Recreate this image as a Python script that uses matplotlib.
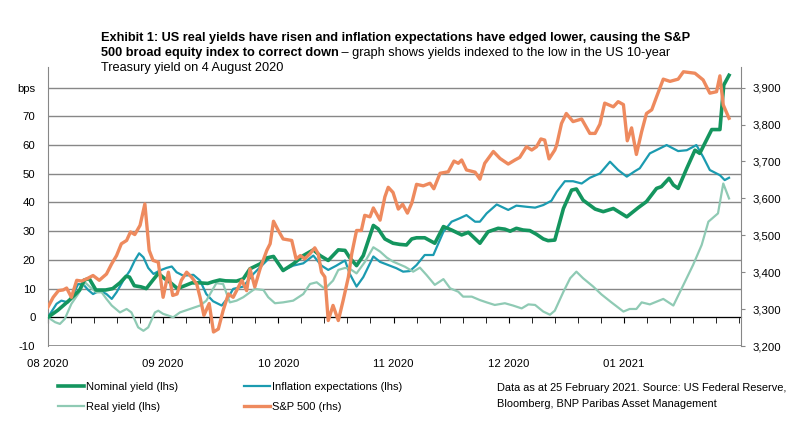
import matplotlib
matplotlib.use('Agg')
import matplotlib.pyplot as plt
from matplotlib.ticker import MultipleLocator, FuncFormatter

plt.rcParams['font.family'] = ['Liberation Sans', 'DejaVu Sans']

# x = trading day index counted from 4 August 2020
month_pos = [0, 24, 48, 72, 96, 120]
month_labels = ['08 2020', '09 2020', '10 2020', '11 2020', '12 2020', '01 2021']

nominal_x = [0, 2.1, 4.5, 6.6, 7.6, 8.6, 10, 12, 13.5, 15, 16.3, 17, 18, 19.4, 20.5, 21.9, 23, 24.3,
             25.3, 27, 28.5, 30, 31.6, 33.3, 34.4, 35.8, 37, 39.3, 40.7, 42.1, 44.2, 45.6, 47, 49,
             51.1, 53.2, 55.3, 56.7, 58.4, 60.5, 61.9, 62.9, 64.3, 65.7, 67.8, 68.8, 70.2, 71.9,
             73.3, 74.7, 75.8, 76.8, 78.5, 80.6, 82.4, 84.1, 86.2, 87.6, 90, 91.7, 93.8, 95.2,
             96.3, 97.6, 99, 100.4, 101.8, 103.2, 104.2, 105.6, 107.4, 109.1, 110.1, 111.5, 114,
             115.7, 117.8, 120.6, 123, 124.7, 126.8, 127.8, 129.4, 130.3, 131.3, 133.1, 134.8,
             135.8, 138.3, 140, 140.8, 141.9]
nominal = [0, 2.5, 6, 9.5, 13, 13.5, 9.5, 9.5, 10, 12, 14.3, 14, 11, 10.6, 10, 13, 15.3, 13.5,
           12.4, 10, 11, 12, 12, 11.8, 12.4, 13, 12.7, 12.6, 13.4, 16.9, 18.6, 20.7, 21.2, 16.3,
           18.6, 21.5, 23.5, 21.5, 19.8, 23.5, 23.3, 20.7, 18, 21.5, 32, 30.8, 27.3, 25.8,
           25.4, 25.2, 27.3, 27.7, 27.7, 25.8, 31.6, 30.4, 28.7, 29.6, 25.8, 29.8, 31, 30.7,
           30, 31, 30.4, 30.2, 28.9, 27.3, 26.7, 26.9, 37.9, 44.3, 44.7, 40.8, 37.7,
           36.8, 37.9, 35, 38.2, 40.3, 44.9, 45.5, 48.4, 46.1, 44.9, 51.9, 58.2,
           57.1, 65.4, 65.4, 80.9, 84.3]

infl_x = [0, 1.8, 2.8, 4.2, 5.3, 6.3, 7.4, 8.4, 9.4, 10.8, 12.2, 13.3, 14.3, 15.7, 17.1, 18.1, 19,
          19.9, 20.9, 22, 23.3, 24.7, 25.8, 26.8, 28.2, 30.3, 31.7, 33, 34.4, 36.2, 37.6, 38.6,
          40.7, 42.8, 44.9, 46.3, 47, 49, 51.1, 53.2, 55.3, 57, 58.4, 60.1, 61.9, 62.9, 64.3,
          65.7, 67.8, 69.2, 70.6, 72.6, 74, 75.4, 76.8, 78.5, 80.3, 82.4, 84.1, 85.8, 87.2, 89,
          90, 91.4, 93.5, 95.9, 97.6, 99.7, 101.5, 103.2, 104.9, 106, 107.7, 109.4, 111.2,
          112.9, 115, 117.1, 118.8, 120.6, 122.3, 123.3, 125.4, 128.9, 131.3, 133.1, 135.1,
          136.5, 137.9, 140, 141, 141.9]
inflation = [0, 4.7, 5.8, 5.2, 8.1, 11.6, 11.4, 9.5, 8.1, 9.3, 8.1, 6.4, 8.7, 12.8, 16.3, 19.8, 22.3,
             20.9, 17.2, 15.1, 16.3, 17.2, 17.7, 15.7, 14.5, 14.8, 12.8, 8.1, 5.6, 4.1, 7, 9.9,
             10.7, 15.1, 18.6, 20.9, 21.2, 16.3, 18, 18.8, 21.5, 18, 16.5, 18, 19.8, 15.1, 10.7,
             14, 21.2, 19.3, 18.4, 17.1, 15.9, 16.1, 18.2, 21.7, 21.7, 29.8, 33.3, 34.5, 35.6, 33.3,
             33.3, 36.2, 39.3, 37.4, 38.9, 38.5, 38.2, 39.1, 40.6, 43.7, 47.4, 47.4, 46.6,
             48.6, 50.1, 54.2, 51.3, 49, 50.9, 51.9, 57.1, 60, 57.9, 58.2, 60,
             55.9, 51.3, 49.5, 47.8, 48.6]

real_x = [0, 1.5, 2.5, 3.5, 4.9, 6.3, 7.7, 8.8, 10.1, 11.2, 12.2, 13.3, 15, 16.4, 17.4, 18.8, 19.9,
          20.9, 22.3, 23, 24, 25.1, 26.1, 27.5, 29.6, 31.7, 33, 34.4, 35.1, 36.5, 37.9, 39.3, 40.7,
          43.1, 44.9, 45.9, 47.3, 49, 51.1, 53.2, 54.6, 56, 57.7, 59.4, 60.5, 61.9, 62.9, 64.3,
          66, 67.8, 69.2, 70.6, 71.9, 74.4, 76.1, 77.5, 78.9, 80.6, 82.4, 83.8, 85.5, 86.5, 88.3,
          90, 91.4, 93.1, 95.2, 96.9, 98.7, 100.1, 101.5, 103.2, 104.6, 105.6, 107.4, 108.8,
          110.1, 111.5, 113.6, 115.3, 117.4, 119.9, 121.2, 122.6, 123.7, 125.4, 128.2, 130.3,
          132.4, 134.4, 136.2, 137.6, 139.6, 140.7, 141.9]
real = [0, -1.7, -2.3, -0.6, 4.7, 8.1, 12.2, 10.5, 8.7, 8.7, 6.4, 4.1, 1.7, 2.9, 1.7, -3.5, -4.7,
        -3.5, 1.7, 2.3, 1.2, 0.6, 0, 1.7, 2.9, 4.1, 5.8, 9.9, 11.9, 11.6, 5.2, 5.8, 7,
        9.9, 9.5, 7, 4.9, 5.2, 5.8, 8.1, 11.6, 12.2, 9.9, 12.8, 16.5, 17.2, 16.9, 15.3,
        19.2, 24.4, 22.9, 20.8, 19.4, 17.6, 15.9, 17.3, 14.7, 11.3, 13.3, 10.1, 8.9, 7.2, 7.2,
        6, 5.2, 4.3, 4.9, 4.1, 3.1, 4.5, 4.3, 2, 0.9, 2.3, 8.9, 13.6,
        15.9, 13.6, 10.7, 8, 5.2, 2, 2.9, 2.9, 5.2, 4.5, 6.4, 4.1,
        11.3, 18.2, 25.2, 33.3, 36.2, 46.6, 41.4]

spx_x = [0, 1.1, 2.2, 3.2, 3.9, 4.9, 6, 7, 8.1, 9.4, 10.7, 12.2, 13.3, 14.3, 15.3, 16.4, 17.2, 18.1,
         19.2, 20.2, 21.1, 21.9, 23, 24, 25.1, 26, 26.9, 27.8, 28.9, 29.9, 31, 31.7, 32.5, 33.6,
         34.5, 35.5, 36.5, 37.6, 38.6, 39.7, 40.4, 41.4, 42.1, 43.1, 44.2, 45.6, 46.3, 47, 48,
         49, 50.8, 51.7, 52.6, 53.5, 54.6, 55.6, 56.3, 57, 57.7, 58.4, 59.4, 60.5, 61.5, 62.6,
         63.3, 64.3, 65.3, 66, 67.1, 67.8, 69.2, 70.2, 70.9, 71.9, 73, 73.9, 74.9, 75.8, 76.8,
         78.2, 79.6, 80.4, 81.7, 83.4, 84.6, 85.5, 86.2, 87.2, 89, 90, 91, 92.8, 94.2, 95.9,
         97.3, 98.3, 99.7, 100.8, 101.8, 102.7, 103.5, 104.4, 105.6, 106, 107, 108, 109.4,
         111.2, 112.9, 114, 115, 116, 117.8, 118.8, 119.9, 120.7, 121.6, 122.6, 123.7, 124.7,
         125.8, 126.8, 128.2, 129.6, 131.3, 132.4, 134.8, 136.5, 137.9, 139.3, 140, 140.7, 141.9]
spx = [3305, 3332, 3350, 3352, 3357, 3332, 3378, 3376, 3382, 3391, 3378, 3395, 3423, 3445, 3477,
       3486, 3509, 3502, 3527, 3585, 3459, 3432, 3427, 3332, 3400, 3337, 3341, 3378, 3400, 3387,
       3368, 3332, 3283, 3315, 3238, 3246, 3296, 3341, 3332, 3360, 3378, 3350, 3409, 3360, 3409,
       3459, 3477, 3538, 3513, 3490, 3486, 3436, 3445, 3436, 3450, 3466, 3450, 3400, 3387, 3269,
       3310, 3269, 3323, 3387, 3450, 3513, 3513, 3554, 3550, 3574, 3541, 3604, 3630, 3616, 3571,
       3584, 3560, 3587, 3638, 3634, 3641, 3626, 3668, 3672, 3701, 3695, 3704, 3677, 3671, 3652,
       3695, 3727, 3708, 3693, 3704, 3711, 3740, 3731, 3740, 3761, 3758, 3707, 3731, 3745, 3803,
       3830, 3808, 3815, 3776, 3776, 3801, 3858, 3848, 3862, 3854, 3756, 3791, 3719, 3781, 3830,
       3840, 3875, 3923, 3917, 3923, 3943, 3939, 3921, 3885, 3889, 3932, 3853, 3817]

c_nom = '#14955e'
c_inf = '#1b9bb0'
c_real = '#8fcab4'
c_spx = '#ee8a5e'
c_grid = '#878787'

fig = plt.figure(figsize=(8.12, 4.36), dpi=100)
ax = fig.add_axes([0.059, 0.2064, 0.8536, 0.64])
ax2 = ax.twinx()

l_nom, = ax.plot(nominal_x, nominal, color=c_nom, lw=2.6, zorder=4)
l_inf, = ax.plot(infl_x, inflation, color=c_inf, lw=1.6, zorder=3)
l_real, = ax.plot(real_x, real, color=c_real, lw=1.6, zorder=3)
l_spx, = ax2.plot(spx_x, spx, color=c_spx, lw=2.4)

ax.set_xlim(0, 144.4)
ax.set_ylim(-10, 87.2)
ax2.set_ylim(3200, 3200 + 97.2 * 700 / 90)

# left axis
ax.set_yticks(range(-10, 90, 10))
ax.set_yticklabels([str(v) for v in range(-10, 80, 10)] + ['bps'])
ax.tick_params(axis='y', length=0, pad=9, labelsize=8.2)
ax.grid(axis='y', color=c_grid, lw=1)
ax.set_axisbelow(True)

# x axis drawn on the zero line, labels pushed under the chart
ax.spines['bottom'].set_position(('data', 0))
ax.spines['bottom'].set_color('black')
ax.set_xticks(month_pos)
ax.set_xticklabels(month_labels)
ax.xaxis.set_minor_locator(MultipleLocator(4.8))
ax.tick_params(axis='x', which='both', direction='out', length=4, color='black', pad=26, labelsize=8.2)
ax.axhline(-10, color=c_grid, lw=1.2, zorder=1)

for s in ['top', 'right']:
    ax.spines[s].set_visible(False)
ax.spines['left'].set_color(c_grid)

# right axis
for s in ['top', 'left', 'bottom']:
    ax2.spines[s].set_visible(False)
ax2.spines['right'].set_color(c_grid)
ax2.set_yticks(range(3200, 4000, 100))
ax2.yaxis.set_major_formatter(FuncFormatter(lambda v, p: f'{int(v):,}'))
ax2.tick_params(axis='y', length=3, color=c_grid, pad=5, labelsize=8.2)

# title
fig.text(0.124, 0.913, 'Exhibit 1: US real yields have risen and inflation expectations have edged lower, causing the S&P',
         fontsize=9.2, fontweight='bold', va='center')
t2 = fig.text(0.124, 0.878, '500 broad equity index to correct down', fontsize=9.2, fontweight='bold', va='center')
ax.annotate(' \u2013 graph shows yields indexed to the low in the US 10-year', xy=(1, 0.5), xycoords=t2,
            va='center', ha='left', fontsize=9.2, annotation_clip=False)
fig.text(0.124, 0.843, 'Treasury yield on 4 August 2020', fontsize=9.2, va='center')

fig.legend([l_nom, l_real, l_inf, l_spx],
           ['Nominal yield (lhs)', 'Real yield (lhs)', 'Inflation expectations (lhs)', 'S&P 500 (rhs)'],
           ncol=2, loc='upper left', bbox_to_anchor=(0.065, 0.137), frameon=False, fontsize=8,
           handlelength=2.3, handletextpad=0.15, columnspacing=6.0, labelspacing=0.95, borderpad=0)

fig.text(0.612, 0.092, 'Data as at 25 February 2021. Source: US Federal Reserve,\nBloomberg, BNP Paribas Asset Management',
         fontsize=7.9, va='center', linespacing=1.75)

fig.savefig('out.png', dpi=100)
